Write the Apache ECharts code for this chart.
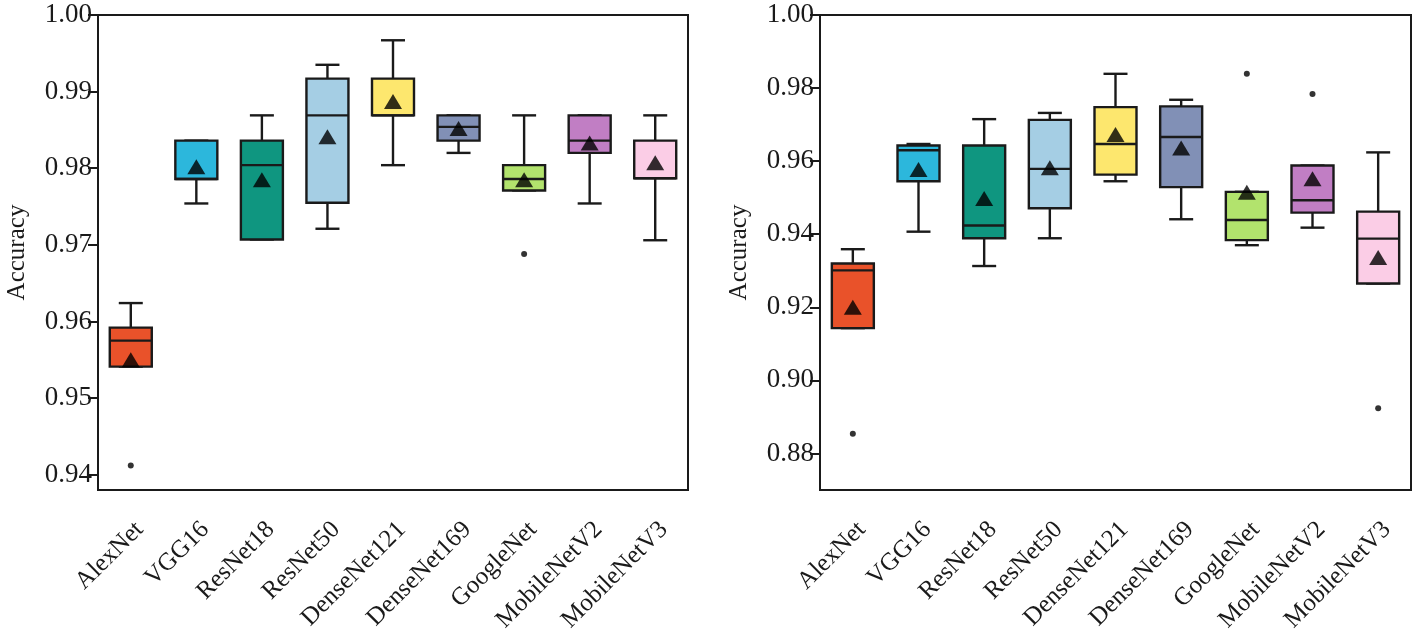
<!DOCTYPE html>
<html>
<head>
<meta charset="utf-8">
<script src="https://cdn.jsdelivr.net/npm/echarts@6/dist/echarts.min.js"></script>
<style>
  html, body { margin: 0; padding: 0; background: #fff; }
  #chart { width: 1417px; height: 638px; }
</style>
</head>
<body>
<div id="chart"></div>
<script>
const models = ['AlexNet', 'VGG16', 'ResNet18', 'ResNet50', 'DenseNet121', 'DenseNet169', 'GoogleNet', 'MobileNetV2', 'MobileNetV3'];
const boxColors = ['#e9522a', '#2cb7dc', '#0f9680', '#a5cee4', '#fde76e', '#8190b6', '#b2e36d', '#c17ec4', '#fbcde6'];

// [min, Q1, median, Q3, max]
const leftBoxes = [
  [0.9541, 0.9541, 0.9575, 0.9592, 0.9624],
  [0.9754, 0.9786, 0.9786, 0.9836, 0.9836],
  [0.9707, 0.9707, 0.9804, 0.9836, 0.9869],
  [0.9721, 0.9755, 0.9869, 0.9917, 0.9935],
  [0.9804, 0.9869, 0.9869, 0.9917, 0.9967],
  [0.9820, 0.9836, 0.9854, 0.9869, 0.9869],
  [0.9771, 0.9771, 0.9786, 0.9804, 0.9869],
  [0.9754, 0.9820, 0.9836, 0.9869, 0.9869],
  [0.9706, 0.9787, 0.9787, 0.9836, 0.9869]
];
const leftMeans = [0.9550, 0.9802, 0.9785, 0.9841, 0.9887, 0.9852, 0.9785, 0.9833, 0.9807];
const leftOutliers = [[0, 0.9412], [6, 0.9688]];
const leftTicks = [0.94, 0.95, 0.96, 0.97, 0.98, 0.99, 1.00];

const rightBoxes = [
  [0.9143, 0.9143, 0.9301, 0.9320, 0.9359],
  [0.9407, 0.9545, 0.9630, 0.9643, 0.9647],
  [0.9313, 0.9389, 0.9424, 0.9643, 0.9715],
  [0.9389, 0.9471, 0.9579, 0.9713, 0.9732],
  [0.9545, 0.9563, 0.9647, 0.9748, 0.9839],
  [0.9441, 0.9529, 0.9666, 0.9750, 0.9768],
  [0.9370, 0.9384, 0.9439, 0.9516, 0.9516],
  [0.9418, 0.9459, 0.9493, 0.9588, 0.9588],
  [0.9265, 0.9265, 0.9388, 0.9462, 0.9624]
];
const rightMeans = [0.9200, 0.9577, 0.9498, 0.9582, 0.9673, 0.9636, 0.9515, 0.9552, 0.9336];
const rightOutliers = [[0, 0.8854], [6, 0.9839], [7, 0.9784], [8, 0.8924]];
const rightTicks = [0.88, 0.90, 0.92, 0.94, 0.96, 0.98, 1.00];

const font = "'Liberation Serif', 'Times New Roman', serif";
const ink = '#1a1a1a';

const chart = echarts.init(document.getElementById('chart'));

const makeX = (gridIndex) => ({
  type: 'category',
  gridIndex,
  data: models,
  boundaryGap: true,
  axisLine: { lineStyle: { color: ink, width: 2 } },
  axisTick: { alignWithLabel: true, length: 9, lineStyle: { color: ink, width: 2 } },
  axisLabel: {
    rotate: 45, color: ink, fontFamily: font, fontSize: 25, margin: 27, interval: 0,
    verticalAlign: 'top'
  },
  splitLine: { show: false }
});

const makeY = (gridIndex, min, ticks) => ({
  type: 'value',
  gridIndex,
  min,
  max: 1.0,
  name: 'Accuracy',
  nameLocation: 'middle',
  nameGap: 68,
  nameTextStyle: { color: ink, fontFamily: font, fontSize: 25 },
  axisLine: { show: true, lineStyle: { color: ink, width: 2 } },
  axisTick: { show: true, length: 10, customValues: ticks, lineStyle: { color: ink, width: 2 } },
  axisLabel: {
    color: ink, fontFamily: font, fontSize: 27, margin: 6,
    customValues: ticks,
    formatter: (v) => v.toFixed(2)
  },
  splitLine: { show: false }
});

// box + whiskers drawn through the axis scales
const boxSeries = (idx, boxes) => ({
  type: 'custom',
  xAxisIndex: idx,
  yAxisIndex: idx,
  z: 3,
  encode: { x: 0, y: [1, 2, 3, 4, 5] },
  data: boxes.map((b, i) => [i].concat(b)),
  renderItem: (params, api) => {
    const x = api.value(0);
    const pMin = api.coord([x, api.value(1)]);
    const pQ1 = api.coord([x, api.value(2)]);
    const pMed = api.coord([x, api.value(3)]);
    const pQ3 = api.coord([x, api.value(4)]);
    const pMax = api.coord([x, api.value(5)]);
    const cx = pMed[0];
    const half = 21;
    const cap = 12;
    const line = { stroke: ink, lineWidth: 2.4 };
    return {
      type: 'group',
      children: [
        { type: 'line', shape: { x1: cx, y1: pQ3[1], x2: cx, y2: pMax[1] }, style: line },
        { type: 'line', shape: { x1: cx - cap, y1: pMax[1], x2: cx + cap, y2: pMax[1] }, style: line },
        { type: 'line', shape: { x1: cx, y1: pQ1[1], x2: cx, y2: pMin[1] }, style: line },
        { type: 'line', shape: { x1: cx - cap, y1: pMin[1], x2: cx + cap, y2: pMin[1] }, style: line },
        {
          type: 'rect',
          shape: { x: cx - half, y: pQ3[1], width: half * 2, height: pQ1[1] - pQ3[1] },
          style: { fill: boxColors[params.dataIndex], stroke: ink, lineWidth: 2.4 }
        },
        { type: 'line', shape: { x1: cx - half, y1: pMed[1], x2: cx + half, y2: pMed[1] }, style: line }
      ]
    };
  }
});

const meanSeries = (idx, means) => ({
  type: 'scatter',
  xAxisIndex: idx,
  yAxisIndex: idx,
  symbol: 'triangle',
  symbolSize: [18, 15],
  z: 5,
  itemStyle: { color: '#000' },
  data: means
});

const outlierSeries = (idx, pts) => ({
  type: 'scatter',
  xAxisIndex: idx,
  yAxisIndex: idx,
  symbol: 'circle',
  symbolSize: 6,
  z: 5,
  itemStyle: { color: '#000' },
  data: pts
});

chart.setOption({
  animation: false,
  backgroundColor: '#fff',
  grid: [
    { left: 98, top: 15, width: 590, height: 475, show: true, borderColor: ink, borderWidth: 2, backgroundColor: 'transparent' },
    { left: 820, top: 15, width: 591, height: 475, show: true, borderColor: ink, borderWidth: 2, backgroundColor: 'transparent' }
  ],
  xAxis: [makeX(0), makeX(1)],
  yAxis: [makeY(0, 0.938, leftTicks), makeY(1, 0.870, rightTicks)],
  series: [
    boxSeries(0, leftBoxes),
    meanSeries(0, leftMeans),
    outlierSeries(0, leftOutliers),
    boxSeries(1, rightBoxes),
    meanSeries(1, rightMeans),
    outlierSeries(1, rightOutliers)
  ]
});
</script>
</body>
</html>
